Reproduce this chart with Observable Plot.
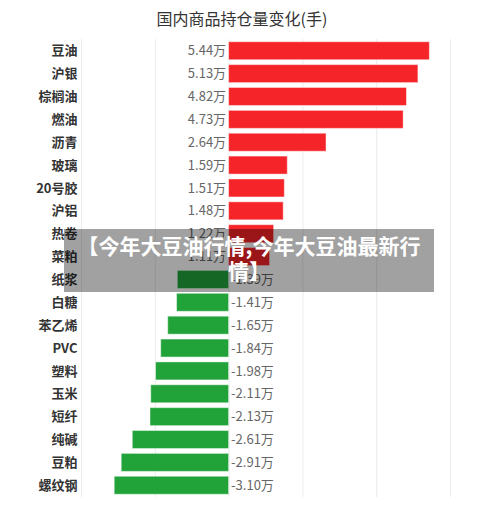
<!DOCTYPE html>
<html>
<head>
<meta charset="utf-8">
<script src="https://cdn.jsdelivr.net/npm/d3@7"></script>
<script src="https://cdn.jsdelivr.net/npm/@observablehq/plot@0.6"></script>
<style>
  html, body { margin: 0; padding: 0; background: #fff; }
  body { width: 500px; height: 521px; position: relative; overflow: hidden;
         font-family: "Noto Sans CJK SC", "Noto Sans", sans-serif; }
  #title { height: 36px; line-height: 37px; text-align: center; font-size: 16px; color: #333;
           padding-right: 16px; }
  #banner { position: absolute; left: 64px; top: 229px; width: 370px; height: 63px;
            background: rgba(0,0,0,0.37); color: #fff; font-weight: bold; font-size: 21px;
            line-height: 25px; text-align: center; padding-top: 4px; box-sizing: border-box; }
</style>
</head>
<body>
<div id="title">国内商品持仓量变化(手)</div>
<div id="chart"></div>
<div id="banner">【今年大豆油行情,今年大豆油最新行<br>情】</div>
<script>
const names = ["豆油","沪银","棕榈油","燃油","沥青","玻璃","20号胶","沪铝","热卷","菜粕","纸浆","白糖","苯乙烯","PVC","塑料","玉米","短纤","纯碱","豆粕","螺纹钢"];
const values = [5.44,5.13,4.82,4.73,2.64,1.59,1.51,1.48,1.22,1.11,-1.39,-1.41,-1.65,-1.84,-1.98,-2.11,-2.13,-2.61,-2.91,-3.10];
const gridTicks = [-4,-2,0,2,4,6];
const unit = "万";
const posColor = "#f52428";
const negColor = "#21a33a";

const data = names.map((n, i) => ({name: n, value: values[i]}));

const chart = Plot.plot({
  width: 500,
  height: 485,
  marginLeft: 81,
  marginRight: 50,
  marginTop: 3,
  marginBottom: 24,
  style: {fontFamily: '"Noto Sans CJK SC", "Noto Sans", sans-serif', background: "#fff"},
  x: {domain: [-4, 6], axis: null},
  y: {domain: names, axis: null, paddingInner: 0.213, paddingOuter: 0.12, round: false},
  marks: [
    Plot.ruleX(gridTicks, {stroke: "#ebebeb", strokeWidth: 1}),
    Plot.barX(data, {x: "value", y: "name", fill: d => d.value >= 0 ? posColor : negColor,
      stroke: "#fff", strokeOpacity: 0.45, strokeWidth: 1}),
    Plot.text(data, {y: "name", text: "name", frameAnchor: "left", textAnchor: "end", dx: -4,
      fontWeight: "bold", fontSize: 13, fill: "#333"}),
    Plot.text(data.filter(d => d.value >= 0), {x: 0, y: "name", text: d => d.value.toFixed(2) + unit,
      textAnchor: "end", dx: -3, fontSize: 13, fill: "#666"}),
    Plot.text(data.filter(d => d.value < 0), {x: 0, y: "name", text: d => d.value.toFixed(2) + unit,
      textAnchor: "start", dx: 2, fontSize: 13, fill: "#666"})
  ]
});
document.getElementById("chart").appendChild(chart);
</script>
</body>
</html>
